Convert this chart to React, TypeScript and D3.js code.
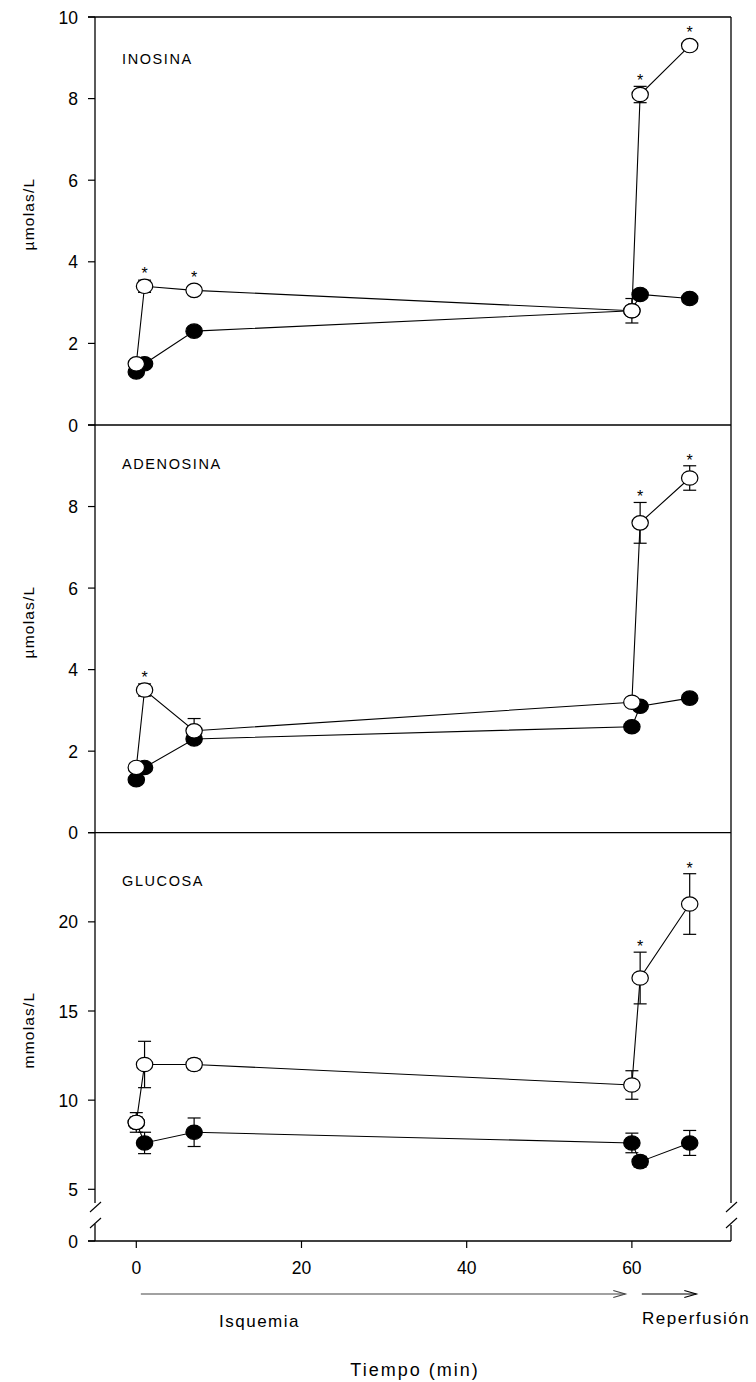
import React from "react";
import * as d3 from "d3";

// ---- data ----
const TIMES = [0, 1, 7, 60, 61, 67];
const X_TICKS = [0, 20, 40, 60];

const INO_CTRL = [1.3, 1.5, 2.3, 2.8, 3.2, 3.1];
const INO_CTRL_ERR = [0.1, 0.1, 0.1, 0.1, 0.1, 0.1];
const INO_TRT = [1.5, 3.4, 3.3, 2.8, 8.1, 9.3];
const INO_TRT_ERR = [0.1, 0.15, 0.1, 0.3, 0.2, 0.1];
const INO_SIG = [false, true, true, false, true, true];

const ADE_CTRL = [1.3, 1.6, 2.3, 2.6, 3.1, 3.3];
const ADE_CTRL_ERR = [0.1, 0.1, 0.1, 0.1, 0.1, 0.1];
const ADE_TRT = [1.6, 3.5, 2.5, 3.2, 7.6, 8.7];
const ADE_TRT_ERR = [0.1, 0.15, 0.3, 0.1, 0.5, 0.3];
const ADE_SIG = [false, true, false, false, true, true];

const GLU_CTRL = [8.75, 7.6, 8.2, 7.6, 6.55, 7.6];
const GLU_CTRL_ERR = [0.3, 0.6, 0.8, 0.55, 0.3, 0.7];
const GLU_TRT = [8.75, 12.0, 12.0, 10.85, 16.85, 21.0];
const GLU_TRT_ERR = [0.55, 1.3, 0.3, 0.8, 1.45, 1.7];
const GLU_SIG = [false, false, false, false, true, true];

const INO_TICKS = [0, 2, 4, 6, 8, 10];
const ADE_TICKS = [0, 2, 4, 6, 8];
const GLU_TICKS = [5, 10, 15, 20];

const ISQ_RANGE = [0.55, 59.2];
const REP_RANGE = [61.2, 67.8];

// ---- layout ----
const FONT = "'Liberation Sans', Arial, Helvetica, sans-serif";
const X0 = 95;
const X1 = 731;
const xScale = d3.scaleLinear().domain([-5, 72]).range([X0, X1]);

type Panel = {
  label: string;
  unit: string;
  y: d3.ScaleLinear<number, number>;
  ticks: number[];
  ctrl: number[];
  ctrlErr: number[];
  trt: number[];
  trtErr: number[];
  sig: boolean[];
  labelY: number;
  unitY: number;
};

const panels: Panel[] = [
  {
    label: "INOSINA",
    unit: "\u00b5molas/L",
    y: d3.scaleLinear().domain([0, 10]).range([425, 17]),
    ticks: INO_TICKS,
    ctrl: INO_CTRL,
    ctrlErr: INO_CTRL_ERR,
    trt: INO_TRT,
    trtErr: INO_TRT_ERR,
    sig: INO_SIG,
    labelY: 64,
    unitY: 214,
  },
  {
    label: "ADENOSINA",
    unit: "\u00b5molas/L",
    y: d3.scaleLinear().domain([0, 10]).range([832.7, 425]),
    ticks: ADE_TICKS,
    ctrl: ADE_CTRL,
    ctrlErr: ADE_CTRL_ERR,
    trt: ADE_TRT,
    trtErr: ADE_TRT_ERR,
    sig: ADE_SIG,
    labelY: 469,
    unitY: 622,
  },
  {
    label: "GLUCOSA",
    unit: "mmolas/L",
    y: d3.scaleLinear().domain([5, 25]).range([1189.3, 832.7]),
    ticks: GLU_TICKS,
    ctrl: GLU_CTRL,
    ctrlErr: GLU_CTRL_ERR,
    trt: GLU_TRT,
    trtErr: GLU_TRT_ERR,
    sig: GLU_SIG,
    labelY: 886,
    unitY: 1030,
  },
];

const Y_BOTTOM = 1241;
const BREAK_TOP = 1203;
const BREAK_BOT = 1224;
const RX = 8.2;
const RY = 7.2;
const CAP = 6.5;

function Series({ p, vals, errs, filled }: { p: Panel; vals: number[]; errs: number[]; filled: boolean }) {
  const line = d3
    .line<number>()
    .x((_, i) => xScale(TIMES[i]))
    .y((v) => p.y(v));
  return (
    <g>
      <path d={line(vals) || ""} fill="none" stroke="#000" strokeWidth={1.1} />
      {vals.map((v, i) => {
        const cx = xScale(TIMES[i]);
        const yHi = p.y(v + errs[i]);
        const yLo = p.y(v - errs[i]);
        return (
          <g key={"e" + i} stroke="#000" strokeWidth={1.2}>
            <line x1={cx} x2={cx} y1={yHi} y2={yLo} />
            <line x1={cx - CAP} x2={cx + CAP} y1={yHi} y2={yHi} />
            <line x1={cx - CAP} x2={cx + CAP} y1={yLo} y2={yLo} />
          </g>
        );
      })}
      {vals.map((v, i) => (
        <ellipse
          key={"c" + i}
          cx={xScale(TIMES[i])}
          cy={p.y(v)}
          rx={RX}
          ry={RY}
          fill={filled ? "#000" : "#fff"}
          stroke="#000"
          strokeWidth={1.2}
        />
      ))}
    </g>
  );
}

export default function App() {
  const axisStroke = 1.3;
  return (
    <svg width={756} height={1382} style={{ display: "block", position: "absolute", left: 0, top: 0, background: "#fff" }}>
      <rect x={0} y={0} width={756} height={1382} fill="#fff" />
      <g fontFamily={FONT} fill="#000">
        {[17, 425, 832.7, Y_BOTTOM].map((yy, i) => (
          <line key={"h" + i} x1={88} x2={X1} y1={yy} y2={yy} stroke="#000" strokeWidth={axisStroke} />
        ))}
        <line x1={X0} x2={X0} y1={17} y2={BREAK_TOP} stroke="#000" strokeWidth={axisStroke} />
        <line x1={X0} x2={X0} y1={BREAK_BOT} y2={Y_BOTTOM} stroke="#000" strokeWidth={axisStroke} />
        <line x1={X0 - 5} x2={X0 + 6} y1={BREAK_TOP + 9} y2={BREAK_TOP - 1} stroke="#000" strokeWidth={1.1} />
        <line x1={X0 - 5} x2={X0 + 6} y1={BREAK_BOT + 4} y2={BREAK_BOT - 6} stroke="#000" strokeWidth={1.1} />
        <line x1={X1} x2={X1} y1={17} y2={BREAK_TOP} stroke="#000" strokeWidth={axisStroke} />
        <line x1={X1} x2={X1} y1={BREAK_BOT + 1} y2={Y_BOTTOM} stroke="#000" strokeWidth={axisStroke} />
        <line x1={X1 - 5} x2={X1 + 6} y1={BREAK_TOP + 9} y2={BREAK_TOP - 1} stroke="#000" strokeWidth={1.1} />
        <line x1={X1 - 5} x2={X1 + 6} y1={BREAK_BOT + 4} y2={BREAK_BOT - 6} stroke="#000" strokeWidth={1.1} />

        {panels.map((p, pi) => (
          <g key={"p" + pi}>
            {p.ticks.map((t) => (
              <g key={"t" + t}>
                <line x1={88} x2={X0} y1={p.y(t)} y2={p.y(t)} stroke="#000" strokeWidth={1.2} />
                <text x={78} y={p.y(t) + 6.5} fontSize={17.5} textAnchor="end">
                  {t}
                </text>
              </g>
            ))}
            <text x={122} y={p.labelY} fontSize={14.5} letterSpacing={1.6}>
              {p.label}
            </text>
            <text
              transform={`translate(34,${p.unitY}) rotate(-90)`}
              fontSize={15.5}
              letterSpacing={1.2}
              textAnchor="middle"
            >
              {p.unit}
            </text>
            <Series p={p} vals={p.ctrl} errs={p.ctrlErr} filled={true} />
            <Series p={p} vals={p.trt} errs={p.trtErr} filled={false} />
            {p.trt.map((v, i) => {
              if (!p.sig[i]) return null;
              const top = Math.min(p.y(v + p.trtErr[i]), p.y(v) - RY);
              return (
                <text key={"s" + i} x={xScale(TIMES[i])} y={top - 9 + 9} fontSize={16} textAnchor="middle">
                  *
                </text>
              );
            })}
          </g>
        ))}

        <line x1={88} x2={X0} y1={Y_BOTTOM} y2={Y_BOTTOM} stroke="#000" strokeWidth={1.2} />
        <text x={78} y={Y_BOTTOM + 6.5} fontSize={17.5} textAnchor="end">
          0
        </text>

        {X_TICKS.map((t) => (
          <g key={"x" + t}>
            <line x1={xScale(t)} x2={xScale(t)} y1={Y_BOTTOM} y2={Y_BOTTOM + 7} stroke="#000" strokeWidth={1.2} />
            <text x={xScale(t)} y={1274} fontSize={17.5} textAnchor="middle">
              {t}
            </text>
          </g>
        ))}

        {[ISQ_RANGE, REP_RANGE].map((r, i) => {
          const xa = xScale(r[0]);
          const xb = xScale(r[1]);
          const yy = 1294;
          return (
            <g key={"a" + i} stroke={i === 0 ? "#444" : "#000"} strokeWidth={1.2} fill="none">
              <line x1={xa} x2={xb} y1={yy} y2={yy} />
              <path d={`M${xb - 12},${yy - 3.5} L${xb},${yy} L${xb - 12},${yy + 3.5}`} />
            </g>
          );
        })}
        <text x={219} y={1327} fontSize={17} letterSpacing={1.5}>
          Isquemia
        </text>
        <text x={642} y={1324} fontSize={17} letterSpacing={1.5}>
          Reperfusión
        </text>
        <text x={415} y={1376} fontSize={18} letterSpacing={2} textAnchor="middle">
          Tiempo (min)
        </text>
      </g>
    </svg>
  );
}
